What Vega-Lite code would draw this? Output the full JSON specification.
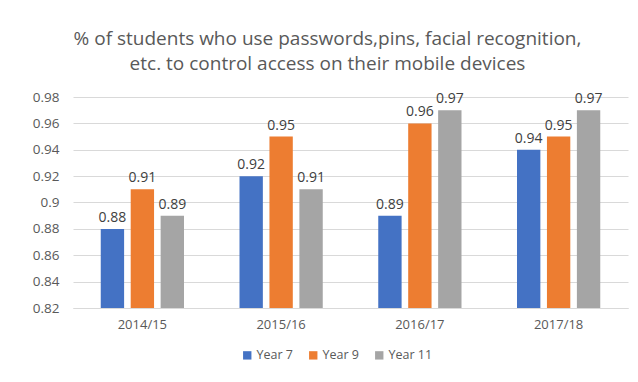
{
  "$schema": "https://vega.github.io/schema/vega-lite/v6.json",
  "autosize": "none",
  "width": 555,
  "height": 211,
  "padding": {"left": 73, "top": 97, "right": 10, "bottom": 74},
  "background": "white",
  "title": {
    "text": ["% of students who use passwords,pins, facial recognition,", "etc. to control access on their mobile devices"],
    "font": "Open Sans",
    "fontSize": 19,
    "fontWeight": "normal",
    "color": "#595959",
    "lineHeight": 25,
    "anchor": "middle",
    "dx": -23,
    "offset": 16
  },
  "data": {
    "values": [
      {"period": "2014/15", "group": "Year 7", "value": 0.88},
      {"period": "2014/15", "group": "Year 9", "value": 0.91},
      {"period": "2014/15", "group": "Year 11", "value": 0.89},
      {"period": "2015/16", "group": "Year 7", "value": 0.92},
      {"period": "2015/16", "group": "Year 9", "value": 0.95},
      {"period": "2015/16", "group": "Year 11", "value": 0.91},
      {"period": "2016/17", "group": "Year 7", "value": 0.89},
      {"period": "2016/17", "group": "Year 9", "value": 0.96},
      {"period": "2016/17", "group": "Year 11", "value": 0.97},
      {"period": "2017/18", "group": "Year 7", "value": 0.94},
      {"period": "2017/18", "group": "Year 9", "value": 0.95},
      {"period": "2017/18", "group": "Year 11", "value": 0.97}
    ]
  },
  "encoding": {
    "x": {
      "field": "period", "type": "nominal",
      "scale": {"paddingInner": 0.4, "paddingOuter": 0.2},
      "axis": {"title": null, "labelAngle": 0, "domain": true, "domainColor": "#d9d9d9", "ticks": false, "labelFont": "Open Sans", "labelFontSize": 13, "labelColor": "#595959", "labelPadding": 10}
    },
    "xOffset": {"field": "group", "type": "nominal", "sort": ["Year 7", "Year 9", "Year 11"], "scale": {"paddingInner": 0.22}},
    "y": {
      "field": "value", "type": "quantitative",
      "scale": {"domain": [0.82, 0.98], "zero": false, "nice": false},
      "axis": {"title": null, "values": [0.82, 0.84, 0.86, 0.88, 0.9, 0.92, 0.94, 0.96, 0.98], "format": "~g", "domain": false, "ticks": false, "grid": true, "gridColor": "#d9d9d9", "labelFont": "Open Sans", "labelFontSize": 13.5, "labelColor": "#595959", "labelPadding": 14}
    }
  },
  "layer": [
    {
      "mark": {"type": "bar"},
      "encoding": {
        "y2": {"datum": 0.82},
        "color": {
          "field": "group", "type": "nominal",
          "sort": ["Year 7", "Year 9", "Year 11"],
          "scale": {"domain": ["Year 7", "Year 9", "Year 11"], "range": ["#4472C4", "#ED7D31", "#A5A5A5"]},
          "legend": {
            "title": null, "orient": "none", "direction": "horizontal",
            "legendX": 168, "legendY": 252,
            "symbolType": "square", "symbolSize": 70, "symbolStrokeWidth": 0,
            "labelFont": "Open Sans", "labelFontSize": 12.5, "labelColor": "#595959",
            "columnPadding": 14, "labelOffset": 3
          }
        }
      }
    },
    {
      "mark": {"type": "text", "baseline": "bottom", "dy": -4, "font": "Open Sans", "fontSize": 14, "color": "#404040"},
      "encoding": {
        "text": {"field": "value", "type": "quantitative", "format": "~g"}
      }
    }
  ],
  "config": {"view": {"stroke": null}}
}
